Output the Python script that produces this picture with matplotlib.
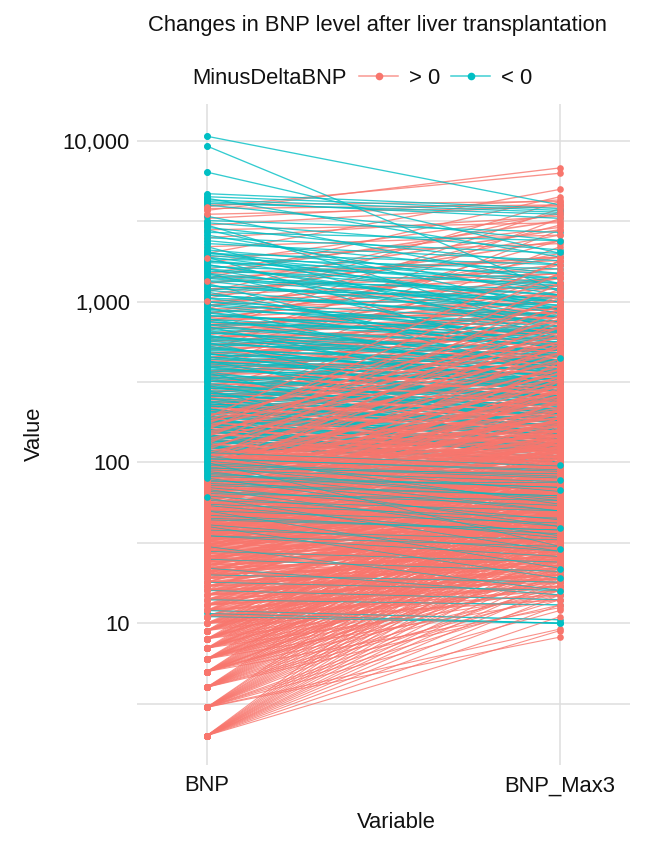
"""Changes in BNP level after liver transplantation: slope chart on a log axis."""

import matplotlib
matplotlib.use("Agg")
import matplotlib.pyplot as plt
from matplotlib.lines import Line2D

plt.rcParams["font.family"] = ["Liberation Sans", "DejaVu Sans"]

PINK = "#F8766D"
TEAL = "#00BFC4"
GRID = "#DEDEDE"

categories = ["BNP", "BNP_Max3"]
y_ticks = [10, 100, 1000, 10000]
y_tick_labels = ["10", "100", "1,000", "10,000"]
y_minor = [3.16, 31.6, 316, 3162]

# rising patients, low baseline
pink_low_bnp = [2] * 18 + [3] * 18 + [4] * 16 + [5] * 16 + [6] * 14 + [7] * 14 + [8] * 12 + [9] * 12
pink_low_max3 = [
    9, 11, 13, 15, 17, 19, 21, 23, 26, 29, 32, 36, 40, 45, 52, 60, 70, 85,
    8.2, 9.2, 12, 14, 16, 18, 22, 25, 28, 31, 35, 39, 44, 50, 58, 66, 80, 95,
    13, 15, 17, 20, 23, 26, 30, 34, 38, 43, 49, 56, 64, 75, 90, 110,
    12.5, 16, 19, 22, 25, 29, 33, 37, 42, 48, 55, 63, 72, 85, 105, 130,
    14, 18, 21, 24, 28, 32, 36, 41, 47, 54, 62, 78, 95, 120,
    15, 19, 23, 27, 31, 35, 40, 46, 53, 61, 70, 88, 110, 150,
    16, 20, 25, 30, 34, 39, 45, 52, 60, 74, 100, 140,
    17, 22, 27, 33, 38, 44, 51, 59, 68, 82, 115, 170,
]

# rising patients, middle baseline
pink_mid_bnp = [
    10, 10, 10, 10, 10, 11, 11, 11, 11, 11,
    12, 12, 12, 12, 12, 13, 13, 13, 13, 13,
    14, 14, 14, 14, 15, 15, 15, 15, 16, 16,
    16, 16, 17, 17, 17, 18, 18, 18, 19, 19,
    19, 20, 20, 20, 20, 21, 21, 21, 22, 22,
    22, 23, 23, 23, 24, 24, 24, 25, 25, 25,
    26, 26, 27, 27, 28, 28, 29, 29, 30, 30,
    31, 31, 32, 32, 33, 33, 34, 34, 35, 35,
    36, 36, 37, 38, 38, 39, 40, 40, 41, 42,
    43, 44, 45, 45, 46, 47, 48, 49, 50, 50,
    52, 53, 54, 55, 56, 58, 59, 60, 61, 63,
    65, 66, 68, 70, 72, 74, 76, 78, 80, 82,
    85, 87, 90, 92, 95, 98, 100, 104, 108, 112,
]
pink_mid_max3 = [
    18, 24, 33, 52, 85, 16, 21, 28, 44, 70,
    19, 26, 37, 60, 110, 17, 23, 31, 48, 90,
    20, 29, 42, 75, 22, 27, 38, 65, 21, 30,
    47, 130, 24, 34, 56, 23, 32, 72, 26, 41,
    95, 25, 36, 54, 160, 28, 44, 80, 27, 39,
    120, 30, 46, 70, 31, 43, 100, 33, 52, 150,
    35, 62, 37, 90, 38, 58, 41, 75, 44, 140,
    42, 68, 45, 110, 47, 85, 50, 190, 52, 78,
    55, 125, 48, 60, 95, 70, 58, 170, 54, 82,
    64, 105, 67, 240, 74, 88, 62, 115, 69, 210,
    72, 130, 80, 92, 76, 160, 98, 135, 86, 300,
    90, 118, 145, 105, 125, 200, 110, 175, 150, 280,
    115, 260, 135, 180, 122, 340, 155, 190, 230, 145,
]

# rising patients with a small change, these make the solid band
pink_dense_bnp = [
    5, 5, 6, 6, 7, 7, 8, 8, 9, 9,
    10, 10, 11, 11, 12, 12, 13, 13, 14, 14,
    15, 15, 16, 16, 17, 17, 18, 18, 19, 19,
    20, 20, 21, 21, 22, 22, 23, 23, 24, 24,
    25, 25, 26, 26, 27, 27, 28, 28, 29, 29,
    30, 30, 31, 31, 32, 32, 33, 33, 34, 34,
    35, 35, 36, 36, 37, 37, 38, 38, 39, 39,
    40, 40, 41, 41, 42, 42, 43, 43, 44, 44,
    45, 45, 46, 46, 47, 47, 48, 48, 49, 49,
    50, 50, 52, 52, 54, 54, 56, 56, 58, 58,
    60, 60, 62, 62, 64, 64, 66, 66, 68, 68,
    70, 70, 72, 72, 74, 74, 76, 76, 78, 78,
    80, 80, 83, 83, 86, 86, 89, 89, 92, 92,
    95, 95, 98, 98, 101, 101, 104, 104, 107, 107,
    110, 110, 114, 114, 118, 118, 122, 122, 126, 126,
    130, 130, 135, 135, 140, 140, 145, 145, 150, 150,
    155, 155, 160, 160, 166, 166, 172, 172, 178, 178,
    185, 185, 192, 192, 200, 200, 208, 208, 216, 216,
    225, 225, 235, 235, 245, 245, 255, 255, 265, 265,
    275, 275, 290, 290, 305, 305, 320, 320, 335, 335,
    350, 350, 370, 370, 390, 390, 410, 410, 430, 430,
    450, 450, 480, 480, 510, 510, 540, 540, 570, 570,
    600, 600, 640, 640, 680, 680, 720, 720, 760, 760,
    800, 850, 900, 950, 1000, 1100, 1200, 1300, 1400, 1500,
]
pink_dense_max3 = [
    21, 34, 26, 44, 29, 50, 36, 66, 41, 76,
    14, 42, 15, 58, 17, 64, 19, 40, 20, 50,
    18, 60, 19, 35, 20, 48, 22, 68, 23, 55,
    24, 50, 25, 66, 26, 42, 28, 60, 29, 85,
    29, 58, 30, 46, 32, 74, 33, 62, 34, 100,
    33, 56, 36, 64, 37, 80, 38, 70, 39, 96,
    39, 60, 41, 72, 43, 88, 44, 66, 45, 120,
    46, 78, 47, 64, 48, 92, 49, 70, 50, 135,
    52, 84, 53, 68, 54, 100, 55, 74, 56, 150,
    58, 90, 60, 76, 62, 110, 64, 82, 66, 160,
    68, 100, 70, 86, 72, 125, 74, 92, 76, 180,
    80, 115, 82, 98, 84, 140, 86, 105, 88, 220,
    90, 130, 94, 110, 96, 160, 100, 120, 104, 250,
    108, 150, 110, 130, 114, 180, 118, 140, 122, 300,
    125, 170, 130, 150, 135, 210, 138, 160, 142, 360,
    148, 200, 154, 175, 160, 250, 165, 185, 172, 420,
    176, 235, 182, 205, 190, 300, 196, 220, 205, 500,
    212, 280, 220, 245, 230, 360, 238, 265, 250, 600,
    260, 340, 270, 300, 285, 440, 295, 320, 310, 720,
    320, 410, 335, 370, 350, 540, 370, 400, 390, 880,
    410, 520, 430, 470, 455, 680, 480, 510, 500, 1100,
    525, 660, 560, 610, 600, 880, 640, 680, 680, 1450,
    710, 860, 760, 800, 810, 1150, 860, 900, 920, 1900,
    1000, 1400, 1100, 1700, 1250, 2400, 1500, 2800, 1900, 3200,
]

# steep risers that turn the right half pink
pink_rise_bnp = [
    20, 24, 28, 32, 36, 40, 44, 48, 52, 56,
    60, 64, 68, 72, 76, 80, 84, 88, 92, 96,
    100, 105, 110, 115, 120, 125, 130, 135, 140, 145,
    150, 155, 160, 165, 170, 175, 180, 185, 190, 195,
    30, 34, 38, 42, 46, 50, 54, 58, 62, 66,
    70, 74, 78, 82, 86, 90, 94, 98, 102, 106,
]
pink_rise_max3 = [
    150, 250, 190, 320, 240, 420, 280, 550, 330, 260,
    380, 300, 700, 340, 480, 900, 400, 620, 360, 750,
    440, 1100, 520, 380, 820, 460, 1300, 560, 420, 950,
    640, 480, 1500, 700, 520, 1050, 560, 780, 1800, 600,
    125, 175, 210, 135, 290, 160, 215, 130, 260, 180,
    200, 280, 170, 240, 320, 190, 270, 360, 210, 520,
]

# rising patients, high baseline
pink_high_bnp = [
    115, 118, 120, 125, 128, 130, 135, 138, 140, 145,
    150, 155, 158, 160, 165, 170, 175, 180, 185, 190,
    195, 200, 205, 210, 220, 225, 230, 240, 250, 255,
    260, 270, 280, 290, 300, 310, 320, 330, 340, 350,
    360, 370, 380, 400, 410, 420, 440, 450, 470, 490,
    500, 520, 540, 560, 580, 600, 620, 650, 680, 700,
    720, 750, 780, 800, 830, 860, 900, 950, 1000, 1050,
    1100, 1150, 1200, 1300, 1400, 1500, 1600, 1750, 1900, 2000,
    2200, 2500, 2800, 3000, 3300, 3500, 3700, 3800, 3900, 4000,
]
pink_high_max3 = [
    170, 140, 420, 260, 190, 650, 155, 320, 240, 900,
    210, 380, 175, 520, 250, 1200, 195, 300, 440, 230,
    700, 270, 1800, 340, 280, 480, 850, 300, 620, 1500,
    330, 410, 560, 1100, 380, 2200, 450, 360, 750, 1300,
    470, 600, 2800, 420, 950, 500, 1700, 560, 680, 3300,
    640, 1400, 590, 800, 2400, 660, 1100, 3800, 740, 1000,
    900, 2000, 850, 1300, 3000, 1000, 4200, 1200, 1500, 2600,
    1400, 3600, 1600, 1900, 4500, 1800, 2900, 3500, 2300, 5000,
    2600, 3400, 3100, 4000, 4300, 3900, 6800, 4000, 6300, 4200,
]

# falling patients
teal_bnp = [
    10700, 9300, 6400, 4700, 4500, 4400, 4300, 4200, 4100, 4000,
    3400, 3200, 3100, 3000, 2900, 2800, 2700, 2600, 2500, 2400,
    2300, 2200, 2100, 2050, 2000, 1950, 1900, 1850, 1800, 1750,
    1700, 1650, 1600, 1550, 1500, 1450, 1400, 1350, 1300, 1250,
    1200, 1150, 1100, 1050, 1000, 960, 920, 880, 850, 820,
    780, 750, 720, 700, 670, 640, 620, 600, 580, 560,
    540, 520, 500, 480, 470, 450, 430, 420, 400, 390,
    370, 360, 340, 330, 320, 300, 290, 280, 270, 260,
    250, 240, 230, 225, 215, 205, 200, 190, 180, 175,
    170, 160, 155, 150, 145, 140, 135, 130, 125, 120,
    115, 110, 105, 100, 96, 92, 88, 84, 80, 76,
    72, 68, 64, 60, 55, 50, 45, 40, 35, 30,
    28, 25, 22, 20, 18, 16, 14, 12, 11.5, 11,
]
teal_max3 = [
    4000, 1150, 2000, 3800, 3700, 1900, 3600, 3300, 3500, 2400,
    1300, 2700, 2100, 650, 1700, 900, 2400, 1100, 2000, 1500,
    1800, 600, 1400, 900, 1700, 1200, 420, 1600, 1000, 1500,
    800, 1400, 700, 1300, 500, 1100, 900, 1200, 350, 1000,
    1050, 450, 800, 950, 600, 700, 300, 750, 520, 650,
    400, 600, 680, 250, 540, 480, 300, 500, 420, 180,
    470, 320, 430, 220, 400, 380, 160, 350, 300, 250,
    330, 120, 300, 200, 280, 150, 260, 90, 240, 230,
    200, 100, 210, 170, 130, 190, 60, 150, 160, 110,
    80, 140, 120, 65, 130, 100, 125, 45, 105, 70,
    95, 55, 90, 30, 80, 85, 50, 70, 40, 75,
    62, 35, 58, 28, 45, 22, 38, 19, 30, 16,
    24, 21, 15, 18, 16, 14, 13, 10.5, 10, 10,
]

# more falling patients in the crowded part of the left column
teal_dense_bnp = [
    2000, 1900, 1800, 1700, 1600, 1500, 1420, 1340, 1260, 1180,
    1100, 1050, 1000, 950, 900, 860, 820, 780, 750, 720,
    690, 660, 640, 610, 590, 570, 550, 530, 510, 490,
    470, 455, 440, 425, 410, 395, 380, 365, 350, 335,
    320, 310, 300, 290, 280, 270, 260, 250, 240, 232,
    224, 216, 208, 200, 193, 186, 179, 172, 166, 160,
    154, 148, 143, 138, 133, 128, 123, 118, 114, 110,
    106, 102, 98, 94, 90, 86, 82, 78, 74, 70,
    66, 62, 58, 54, 50, 47, 44, 41, 38, 35,
]
teal_dense_max3 = [
    1300, 1000, 1250, 850, 1100, 950, 1000, 800, 900, 750,
    820, 600, 760, 560, 680, 520, 640, 580, 560, 430,
    540, 380, 500, 410, 460, 360, 430, 300, 400, 340,
    370, 280, 350, 310, 330, 240, 310, 200, 290, 260,
    260, 190, 245, 210, 225, 175, 215, 140, 200, 170,
    180, 130, 170, 150, 160, 115, 150, 125, 140, 90,
    125, 100, 118, 85, 110, 95, 105, 70, 95, 80,
    88, 66, 82, 58, 76, 60, 70, 50, 62, 44,
    54, 40, 50, 34, 42, 36, 38, 28, 33, 26,
]

# dots that sit on top in the crowded columns
left_teal_top = [61]
left_pink_top = [3500, 3700, 3900, 1880, 1350, 1010]
right_teal_top = [2400, 2050, 447, 97, 78, 67, 39, 29, 21.6, 19, 15.8, 10]

pink_bnp = pink_low_bnp + pink_mid_bnp + pink_dense_bnp + pink_rise_bnp + pink_high_bnp
pink_max3 = pink_low_max3 + pink_mid_max3 + pink_dense_max3 + pink_rise_max3 + pink_high_max3
all_teal_bnp = teal_bnp + teal_dense_bnp
all_teal_max3 = teal_max3 + teal_dense_max3

W, H = 664, 858
fig = plt.figure(figsize=(W / 100, H / 100), dpi=100, facecolor="white")
ax = fig.add_axes([137 / W, 1 - 765 / H, (630 - 137) / W, (765 - 104) / H])
ax.set_yscale("log")
ax.set_xlim(-0.198, 1.198)
ax.set_ylim(10 ** 0.118, 10 ** 4.23)

for side in ax.spines.values():
    side.set_visible(False)

ax.set_xticks([0, 1], categories)
ax.set_yticks(y_ticks, y_tick_labels)
ax.set_yticks(y_minor, [""] * len(y_minor), minor=True)
ax.tick_params(axis="both", which="both", length=0, labelsize=15.8, colors="#111111")
ax.tick_params(axis="x", pad=7.5)
ax.tick_params(axis="y", pad=5)
ax.grid(True, which="both", color=GRID, lw=1.1)
ax.set_axisbelow(True)


def draw_lines(xs, ys, color, z, lw=1.2):
    for a, b in zip(xs, ys, strict=True):
        ax.plot([0, 1], [a, b], color=color, lw=lw, alpha=0.8, zorder=z)


# higher pink goes under the teal, lower pink over it, a few thin teal last
high_dense = [(a, b) for a, b in zip(pink_dense_bnp, pink_dense_max3, strict=True) if a >= 110]
low_dense = [(a, b) for a, b in zip(pink_dense_bnp, pink_dense_max3, strict=True) if a < 110]
draw_lines(pink_high_bnp, pink_high_max3, PINK, 2, lw=0.95)
draw_lines([p[0] for p in high_dense], [p[1] for p in high_dense], PINK, 2)
draw_lines(all_teal_bnp, all_teal_max3, TEAL, 3, lw=0.95)
draw_lines(pink_low_bnp, pink_low_max3, PINK, 3.5, lw=0.8)
draw_lines(pink_mid_bnp + pink_rise_bnp + [p[0] for p in low_dense],
           pink_mid_max3 + pink_rise_max3 + [p[1] for p in low_dense], PINK, 3.5)
draw_lines(teal_bnp[100:] + teal_dense_bnp[70:], teal_max3[100:] + teal_dense_max3[70:], TEAL, 3.6, lw=0.5)

# points
ms = 4.8
ax.plot([0] * len(all_teal_bnp), all_teal_bnp, "o", color=TEAL, ms=ms, mew=0, zorder=4)
ax.plot([1] * len(all_teal_max3), all_teal_max3, "o", color=TEAL, ms=ms, mew=0, zorder=4)
ax.plot([0] * len(pink_bnp), pink_bnp, "o", color=PINK, ms=ms, mew=0, zorder=5)
ax.plot([1] * len(pink_max3), pink_max3, "o", color=PINK, ms=ms, mew=0, zorder=5)
top_teal = [t for t in all_teal_bnp if t >= 80]
ax.plot([0] * len(top_teal), top_teal, "o", color=TEAL, ms=ms, mew=0, zorder=6)
ax.plot([0] * len(left_teal_top), left_teal_top, "o", color=TEAL, ms=ms, mew=0, zorder=6)
ax.plot([0] * len(left_pink_top), left_pink_top, "o", color=PINK, ms=ms, mew=0, zorder=7)
ax.plot([1] * len(right_teal_top), right_teal_top, "o", color=TEAL, ms=ms, mew=0, zorder=6)


# title, axis names and legend are placed by pixel
def px_text(x, y, s, **kw):
    fig.text(x / W, 1 - y / H, s, va="center", color="#111111", **kw)


px_text(377, 25, "Changes in BNP level after liver transplantation", ha="center", fontsize=15.8)
px_text(396, 823, "Variable", ha="center", fontsize=15.8)
px_text(34, 434, "Value", ha="center", rotation=90, fontsize=15.8)
px_text(192, 78, "MinusDeltaBNP", ha="left", fontsize=15.8)
px_text(409, 78, "> 0", ha="left", fontsize=15.8)
px_text(501, 78, "< 0", ha="left", fontsize=15.8)

for x0, col in [(359, PINK), (451, TEAL)]:
    fig.add_artist(Line2D([x0 / W, (x0 + 39) / W], [1 - 76 / H] * 2, color=col, lw=1.1, alpha=0.75))
    fig.add_artist(Line2D([(x0 + 19.5) / W], [1 - 76 / H], marker="o", color=col, ms=5.5, mew=0))

fig.savefig("out.png", dpi=100)
